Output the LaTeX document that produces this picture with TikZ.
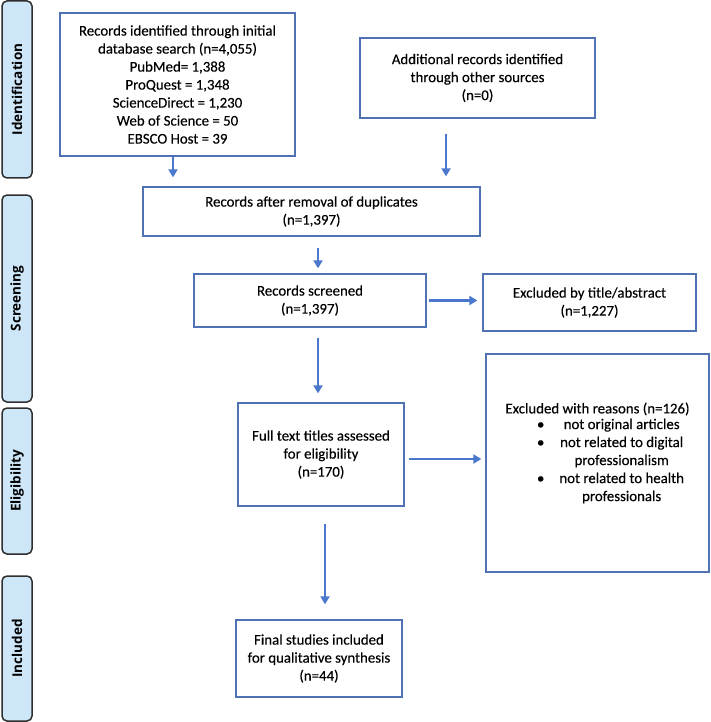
\documentclass[tikz,border=0pt]{standalone}
\usepackage{fontspec}
\setmainfont{Carlito}[FakeBold=0.3]
\newfontfamily\stagefont{Open Sans}
\usepackage{tikz}
\usetikzlibrary{arrows.meta}

\definecolor{boxblue}{HTML}{5072B4}
\definecolor{arrowblue}{HTML}{4A78CC}
\definecolor{stagefill}{HTML}{CDE6F8}
\definecolor{stagedraw}{HTML}{2F2F2F}

\begin{document}
\begin{tikzpicture}[x=1pt, y=-1pt]
	\useasboundingbox (0,0) rectangle (710,722);
	% stage labels on the left
	\begin{scope}[every node/.style = {draw=stagedraw, fill=stagefill, line width=1.5pt,
			rounded corners=5pt, rotate=90, minimum height=30pt, inner sep=0pt,
			font=\stagefont\bfseries\fontsize{13.5}{16}\selectfont}]
		\node[minimum width=177pt] (identification) at (17,89.5) {Identification};
		\node[minimum width=207pt] (screening) at (17,298.5) {Screening};
		\node[minimum width=146pt] (eligibility) at (17,481) {Eligibility};
		\node[minimum width=145pt] (included) at (17,648.5) {Included};
	\end{scope}
	% flow boxes
	\begin{scope}[every node/.style = {draw=boxblue, line width=1.3pt, align=center,
			inner sep=0pt, font=\fontsize{14.85}{18}\selectfont}]
		\node[minimum width=235pt, minimum height=143pt] (ident) at (177.5,84.5)
			{Records identified through initial\\database search (n=4,055)\\PubMed= 1,388\\ProQuest = 1,348\\ScienceDirect = 1,230\\Web of Science = 50\\EBSCO Host = 39};
		\node[minimum width=235pt, minimum height=80pt] (other) at (477.5,78)
			{Additional records identified\\through other sources\\(n=0)};
		\node[minimum width=337pt, minimum height=49pt] (dedup) at (311.5,211.5)
			{Records after removal of duplicates\\(n=1,397)};
		\node[minimum width=232pt, minimum height=53pt] (screened) at (310,300.5)
			{Records screened\\(n=1,397)};
		\node[minimum width=213pt, minimum height=57pt] (excl) at (589.5,302.5)
			{Excluded by title/abstract\\(n=1,227)};
		\node[minimum width=166pt, minimum height=103pt] (full) at (321,454.5)
			{Full text titles assessed\\for eligibility\\(n=170)};
		\node[minimum width=223pt, minimum height=218pt] (reasons) at (597.5,463) {};
		\node[minimum width=166pt, minimum height=77pt] (final) at (319,658.5)
			{Final studies included\\for qualitative synthesis\\(n=44)};
	\end{scope}
	\node[align=center, inner sep=0pt, font=\fontsize{14.85}{18}\selectfont] (reasonstext)
		at ([yshift=8.5pt]reasons.center)
		{Excluded with reasons (n=126)\\
		\begin{tabular}{@{\hspace{26pt}}c@{\hspace{15pt}}c@{}}
			\textbullet & not original articles\\
			\textbullet & not related to digital\\
			 & professionalism\\
			\textbullet & not related to health\\
			 & professionals
		\end{tabular}};
	% arrows
	\begin{scope}[>={Triangle[length=8pt, width=9pt]},
			every edge/.style={draw=arrowblue, line width=2.5pt}]
		\path [->] ([xshift=-4.5pt]ident.south) edge[shorten >=9pt] ([xshift=-4.5pt]ident.south |- dedup.north);
		\path [->] ([xshift=-31.5pt]other.south) edge[shorten <=15pt, shorten >=10pt] ([xshift=-31.5pt]other.south |- dedup.north);
		\path [->] ([xshift=6.5pt]dedup.south) edge[shorten <=11pt, shorten >=5pt] ([xshift=6.5pt]dedup.south |- screened.north);
		\path [->] (screened.east) edge[shorten <=2pt, shorten >=5pt] (screened.east -| excl.west);
		\path [->] ([xshift=8pt]screened.south) edge[shorten <=10pt, shorten >=9pt] ([xshift=8pt]screened.south |- full.north);
		\path [->] ([yshift=-4.5pt]full.east) edge[shorten <=4pt, shorten >=4pt] ([yshift=-4.5pt]full.east -| reasons.west);
		\path [->] ([xshift=4pt]full.south) edge[shorten <=17pt, shorten >=15pt] ([xshift=4pt]full.south |- final.north);
	\end{scope}
\end{tikzpicture}
\end{document}
